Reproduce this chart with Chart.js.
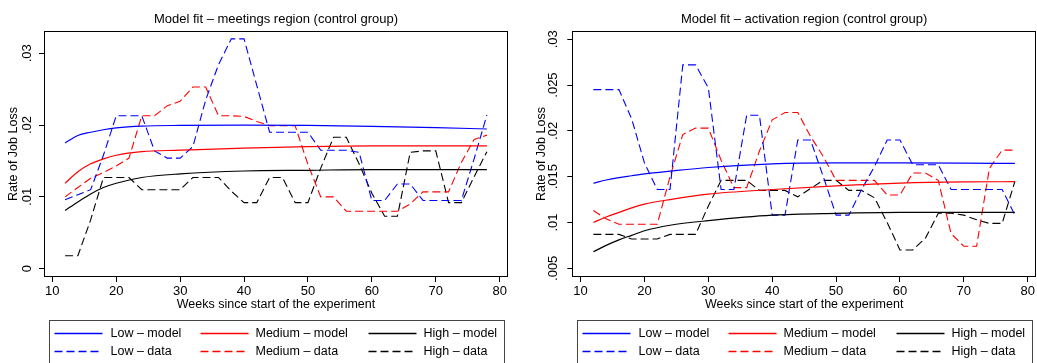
<!DOCTYPE html>
<html lang="en">

<head>
    <meta charset="UTF-8">
    <title>Model fit (control group)</title>
    <script src="https://cdn.jsdelivr.net/npm/chart.js"></script>
    <style>
        body { margin: 0; background: #fff; }
        .painel { position: absolute; top: 0; width: 518px; height: 363px; }
    </style>
</head>

<body>
    <div class="painel" style="left: 0;"><canvas id="graficoMeetings"></canvas></div>
    <div class="painel" style="left: 519px;"><canvas id="graficoActivation"></canvas></div>

    <script>
        // weeks where the observed rates are plotted (every 2 weeks)
        const weeks = [12, 14, 16, 18, 20, 22, 24, 26, 28, 30, 32, 34, 36, 38, 40, 42, 44,
            46, 48, 50, 52, 54, 56, 58, 60, 62, 64, 66, 68, 70, 72, 74, 76, 78];
        const modelWeeks = [12, 14, 16, 18, 20, 24, 30, 40, 50, 60, 70, 78];
        const xTicks = [10, 20, 30, 40, 50, 60, 70, 80];

        const seriesNames = ['Low – model', 'Medium – model', 'High – model',
            'Low – data', 'Medium – data', 'High – data'];
        const seriesColors = ['#0000ff', '#ff0000', '#000000'];

        // meetings region
        const meetYTicks = [0, 0.01, 0.02, 0.03];
        const meetYLabels = ['0', '.01', '.02', '.03'];

        const meetLowModel = [.0175, .01855, .0190, .01935, .0196, .01985, .01995, .0200, .01995, .01982, .01965, .01945];
        const meetMedModel = [.0119, .0135, .0146, .0153, .0158, .0163, .0165, .0168, .0170, .0171, .0171, .0171];
        const meetHighModel = [.0081, .0093, .0104, .0113, .0119, .0127, .0132, .0136, .0137, .0138, .0138, .0138];

        const meetLowData = [.0096, .0103, .0110, .0158, .0213, .0213, .0213, .0164, .0154, .0154, .0170, .0235,
            .0284, .0320, .0320, .0255, .0190, .0190, .0190, .0190, .0165, .0165, .0165, .0162, .0095, .0095,
            .0118, .0118, .0095, .0095, .0095, .0095, .0153, .0214];
        const meetMedData = [.0100, .0113, .0126, .0134, .0143, .0154, .0213, .0213, .0227, .0233, .0253, .0253,
            .0213, .0213, .0212, .0205, .0199, .0199, .0199, .0145, .0100, .0100, .0080, .0080, .0080, .0080,
            .0080, .0090, .0107, .0107, .0107, .0148, .0180, .0186];
        const meetHighData = [.0018, .0018, .0068, .0127, .0127, .0127, .0110, .0110, .0110, .0110, .0127, .0127,
            .0127, .0108, .0092, .0092, .0127, .0127, .0092, .0092, .0140, .0183, .0183, .0146, .0105, .0073,
            .0073, .0162, .0164, .0164, .0092, .0092, .0128, .0163];

        // activation region
        const actYTicks = [0.005, 0.01, 0.015, 0.02, 0.025, 0.03];
        const actYLabels = ['.005', '.01', '.015', '.02', '.025', '.03'];

        const actLowModel = [.01428, .01464, .0149, .0151, .0153, .0156, .0160, .0164, .0165, .0165, .01648, .01645];
        const actMedModel = [.0100, .0106, .0111, .0116, .0120, .0125, .0131, .0136, .0140, .0143, .01443, .01445];
        const actHighModel = [.0068, .0075, .0081, .0086, .0091, .0097, .0102, .0108, .0110, .0111, .0111, .0111];

        const actLowData = [.0245, .0245, .0245, .0213, .0165, .0136, .0136, .0272, .0272, .0247, .0136, .0136,
            .0217, .0217, .0108, .0108, .0190, .0190, .0150, .0108, .0108, .0136, .0161, .0190, .0190, .0163,
            .0163, .0163, .0136, .0136, .0136, .0136, .0136, .0108];
        const actMedData = [.0113, .0104, .0098, .0098, .0098, .0098, .0150, .0196, .0203, .0203, .0168, .0138,
            .0138, .0178, .0212, .0220, .0220, .0194, .0172, .0146, .0146, .0146, .0146, .0130, .0130, .0154,
            .0154, .0146, .0088, .0074, .0074, .0159, .0179, .0179];
        const actHighData = [.0087, .0087, .0087, .0082, .0082, .0082, .0087, .0087, .0087, .0118, .0146, .0146,
            .0146, .0135, .0135, .0135, .0128, .0137, .0146, .0146, .0135, .0135, .0127, .0100, .0070, .0070,
            .0083, .0110, .0110, .0108, .0103, .0099, .0099, .0145];

        const fonte = '"Liberation Sans", Arial, Helvetica, sans-serif';
        Chart.defaults.font.family = fonte;
        Chart.defaults.color = '#000';

        const DASH = [8, 4];

        function pontos(xs, ys) {
            return xs.map((x, i) => ({ x: x, y: ys[i] }));
        }

        function linha(i, xs, ys) {
            const tracejado = i >= 3;
            return {
                label: seriesNames[i],
                data: pontos(xs, ys),
                borderColor: seriesColors[i % 3],
                borderWidth: tracejado ? 1.1 : 1.2,
                borderDash: tracejado ? DASH : [],
                pointRadius: 0,
                fill: false,
                tension: 0,
                cubicInterpolationMode: tracejado ? 'default' : 'monotone'
            };
        }

        // box around the plot region
        const moldura = {
            id: 'moldura',
            afterDatasetsDraw(chart) {
                const a = chart.chartArea;
                const ctx = chart.ctx;
                ctx.save();
                ctx.strokeStyle = '#000';
                ctx.lineWidth = 1;
                ctx.strokeRect(Math.round(a.left) + 0.5, Math.round(a.top) + 0.5,
                    Math.round(a.right - a.left) - 1, Math.round(a.bottom - a.top) - 1);
                ctx.restore();
            }
        };

        // two-row legend in a box under the x axis title
        const legendaCaixa = {
            id: 'legendaCaixa',
            afterDraw(chart) {
                const a = chart.chartArea;
                const ctx = chart.ctx;
                const esq = Math.round((a.left + a.right) / 2 - 227.5) + 0.5;
                const colLinha = [5, 151, 319];
                const colTexto = [61, 206, 374];
                const linhasY = [333.5, 351.5];

                ctx.save();
                ctx.lineWidth = 1;
                ctx.strokeStyle = '#444';
                ctx.strokeRect(esq, 320.5, 455, 60);
                ctx.font = '12.5px ' + fonte;
                ctx.fillStyle = '#000';
                ctx.textBaseline = 'middle';

                for (let i = 0; i < seriesNames.length; i++) {
                    const col = i % 3;
                    const y = linhasY[Math.floor(i / 3)];
                    ctx.save();
                    ctx.strokeStyle = seriesColors[col];
                    ctx.lineWidth = 1.3;
                    ctx.setLineDash(i >= 3 ? DASH : []);
                    ctx.beginPath();
                    ctx.moveTo(esq + colLinha[col], y);
                    ctx.lineTo(esq + colLinha[col] + 48, y);
                    ctx.stroke();
                    ctx.restore();
                    ctx.fillText(seriesNames[i], esq + colTexto[col], y);
                }
                ctx.restore();
            }
        };

        function criarGrafico(id, titulo, cfg) {
            return new Chart(document.getElementById(id), {
                type: 'line',
                data: { datasets: cfg.series },
                plugins: [moldura, legendaCaixa],
                options: {
                    animation: false,
                    responsive: true,
                    maintainAspectRatio: false,
                    layout: { padding: { left: 0, right: cfg.padRight, top: 0, bottom: 50 } },
                    plugins: {
                        legend: { display: false },
                        tooltip: { enabled: false },
                        title: {
                            display: true,
                            text: titulo,
                            fullSize: false,
                            color: '#000',
                            font: { size: 13, weight: 'normal' },
                            padding: { top: 11.5, bottom: 3.9 }
                        }
                    },
                    scales: {
                        x: {
                            type: 'linear',
                            min: 8.7,
                            max: 81.3,
                            afterBuildTicks: (s) => { s.ticks = xTicks.map(v => ({ value: v })); },
                            afterFit: (s) => { s.height = 36; },
                            ticks: {
                                autoSkip: false,
                                maxRotation: 0,
                                padding: 2,
                                font: { size: 13 },
                                callback: (v) => String(v)
                            },
                            grid: { drawOnChartArea: false, drawTicks: true, tickLength: 5, color: '#000' },
                            border: { display: false },
                            title: {
                                display: true,
                                text: 'Weeks since start of the experiment',
                                font: { size: 12.5 },
                                padding: { top: 0, bottom: 0.5 }
                            }
                        },
                        y: {
                            min: cfg.yMin,
                            max: cfg.yMax,
                            afterBuildTicks: (s) => { s.ticks = cfg.yTicks.map(v => ({ value: v })); },
                            afterFit: (s) => { s.width = cfg.yWidth; },
                            ticks: {
                                autoSkip: false,
                                minRotation: 90,
                                maxRotation: 90,
                                crossAlign: 'center',
                                padding: cfg.yTickPad,
                                font: { size: 13 },
                                callback: (v, i) => cfg.yLabels[i]
                            },
                            grid: { drawOnChartArea: false, drawTicks: true, tickLength: 5, color: '#000' },
                            border: { display: false },
                            title: {
                                display: true,
                                text: 'Rate of Job Loss',
                                font: { size: 12.5 },
                                padding: { top: cfg.yTitlePad, bottom: 0 }
                            }
                        }
                    }
                }
            });
        }

        criarGrafico('graficoMeetings', 'Model fit – meetings region (control group)', {
            series: [
                linha(0, modelWeeks, meetLowModel),
                linha(1, modelWeeks, meetMedModel),
                linha(2, modelWeeks, meetHighModel),
                linha(3, weeks, meetLowData),
                linha(4, weeks, meetMedData),
                linha(5, weeks, meetHighData)
            ],
            yMin: -0.00116,
            yMax: 0.0331,
            yTicks: meetYTicks,
            yLabels: meetYLabels,
            yWidth: 44,
            yTickPad: 3,
            yTitlePad: 6.5,
            padRight: 10
        });

        criarGrafico('graficoActivation', 'Model fit – activation region (control group)', {
            series: [
                linha(0, modelWeeks, actLowModel),
                linha(1, modelWeeks, actMedModel),
                linha(2, modelWeeks, actHighModel),
                linha(3, weeks, actLowData),
                linha(4, weeks, actMedData),
                linha(5, weeks, actHighData)
            ],
            yMin: 0.00405,
            yMax: 0.0309,
            yTicks: actYTicks,
            yLabels: actYLabels,
            yWidth: 53.3,
            yTickPad: 1.3,
            yTitlePad: 15.2,
            padRight: 1
        });
    </script>
</body>

</html>
